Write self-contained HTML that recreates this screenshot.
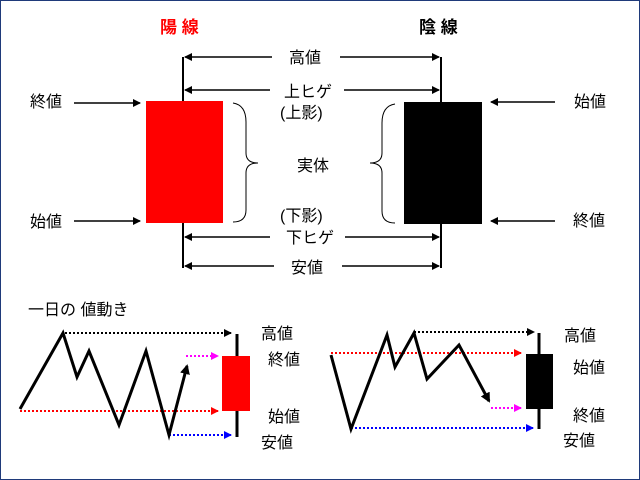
<!DOCTYPE html>
<html><head><meta charset="utf-8"><style>
html,body{margin:0;padding:0;background:#fff;}
svg{display:block;}
text{font-family:"Liberation Sans","Noto Sans CJK JP",sans-serif;font-size:16px;fill:#000;}
</style></head><body>
<svg width="640" height="480" viewBox="0 0 640 480" xmlns="http://www.w3.org/2000/svg">
<defs>
<marker id="ab" markerWidth="8" markerHeight="8" refX="7" refY="4" orient="auto" markerUnits="userSpaceOnUse"><path d="M0,0 L8,4 L0,8 z" fill="#000"/></marker>
<marker id="ar" markerWidth="8" markerHeight="8" refX="7" refY="4" orient="auto" markerUnits="userSpaceOnUse"><path d="M0,0 L8,4 L0,8 z" fill="#f00"/></marker>
<marker id="am" markerWidth="8" markerHeight="8" refX="7" refY="4" orient="auto" markerUnits="userSpaceOnUse"><path d="M0,0 L8,4 L0,8 z" fill="#f0f"/></marker>
<marker id="au" markerWidth="8" markerHeight="8" refX="7" refY="4" orient="auto" markerUnits="userSpaceOnUse"><path d="M0,0 L8,4 L0,8 z" fill="#00f"/></marker>
<marker id="az" markerWidth="10" markerHeight="10" refX="8" refY="5" orient="auto" markerUnits="userSpaceOnUse"><path d="M0,0 L10,5 L0,10 z" fill="#000"/></marker>
</defs>
<rect x="0.5" y="0.5" width="639" height="479" fill="#fff" stroke="#1f3a7a"/>
<text x="160" y="33" style="fill:#f00;font-weight:bold;font-size:17px">陽 線</text>
<text x="419" y="33" style="font-weight:bold;font-size:17px">陰 線</text>
<g stroke="#000" stroke-width="2" fill="none">
<line x1="183" y1="57" x2="183" y2="268"/>
<line x1="441" y1="57" x2="441" y2="268"/>
</g>
<rect x="146" y="101" width="77" height="122" fill="#f00"/>
<rect x="404" y="102" width="78" height="122" fill="#000"/>
<g stroke="#000" stroke-width="1.5" marker-end="url(#ab)">
<line x1="272" y1="57" x2="185" y2="57"/><line x1="340" y1="57" x2="439" y2="57"/>
<line x1="270" y1="90" x2="185" y2="90"/><line x1="344" y1="90" x2="439" y2="90"/>
<line x1="270" y1="237" x2="185" y2="237"/><line x1="345" y1="237" x2="439" y2="237"/>
<line x1="274" y1="266" x2="185" y2="266"/><line x1="342" y1="266" x2="439" y2="266"/>
<line x1="74" y1="103" x2="140" y2="103"/><line x1="74" y1="221" x2="140" y2="221"/>
<line x1="555" y1="102" x2="491" y2="102"/><line x1="555" y1="221" x2="491" y2="221"/>
</g>
<g>
<text x="289" y="63">高値</text>
<text x="284" y="97">上ヒゲ</text>
<text x="280" y="118">(上影)</text>
<text x="297" y="171">実体</text>
<text x="280" y="221">(下影)</text>
<text x="286" y="243">下ヒゲ</text>
<text x="291" y="273">安値</text>
<text x="30" y="107">終値</text>
<text x="30" y="227">始値</text>
<text x="574" y="107">始値</text>
<text x="573" y="226">終値</text>
</g>
<path d="M233,103 Q246,105 246,122 L246,153 Q246,163 258,163 Q246,163 246,173 L246,210 Q246,222 233,222" fill="none" stroke="#000" stroke-width="1"/>
<path d="M395,104 Q382,106 382,123 L382,153 Q382,163 370,163 Q382,163 382,173 L382,211 Q382,223 395,223" fill="none" stroke="#000" stroke-width="1"/>

<text x="28" y="315">一日の 値動き</text>
<g stroke-width="2" stroke-dasharray="2,2" fill="none">
<line x1="65" y1="333" x2="231" y2="333" stroke="#000" marker-end="url(#ab)"/>
<line x1="186" y1="356" x2="218" y2="356" stroke="#f0f" marker-end="url(#am)"/>
<line x1="20" y1="411" x2="218" y2="411" stroke="#f00" marker-end="url(#ar)"/>
<line x1="169" y1="435" x2="231" y2="435" stroke="#00f" marker-end="url(#au)"/>
</g>
<line x1="237" y1="334" x2="237" y2="437" stroke="#000" stroke-width="3"/>
<rect x="222" y="356" width="28" height="55" fill="#f00"/>
<polyline points="20,409 63,333 77,377 89,351 119,425 146,351 169,435 187,366" fill="none" stroke="#000" stroke-width="3" marker-end="url(#az)"/>
<text x="261" y="339">高値</text>
<text x="268" y="365">終値</text>
<text x="268" y="422">始値</text>
<text x="261" y="448">安値</text>
<g stroke-width="2" stroke-dasharray="2,2" fill="none">
<line x1="414" y1="332" x2="534" y2="332" stroke="#000" marker-end="url(#ab)"/>
<line x1="331" y1="353" x2="521" y2="353" stroke="#f00" marker-end="url(#ar)"/>
<line x1="491" y1="408" x2="521" y2="408" stroke="#f0f" marker-end="url(#am)"/>
<line x1="351" y1="428" x2="533" y2="428" stroke="#00f" marker-end="url(#au)"/>
</g>
<line x1="539" y1="333" x2="539" y2="429" stroke="#000" stroke-width="3"/>
<rect x="526" y="354" width="27" height="55" fill="#000"/>
<polyline points="331,355 351,429 387,335 395,367 414,333 427,379 459,345 489,401" fill="none" stroke="#000" stroke-width="3" marker-end="url(#az)"/>
<text x="564" y="341">高値</text>
<text x="573" y="373">始値</text>
<text x="573" y="421">終値</text>
<text x="563" y="446">安値</text>
</svg>
</body></html>
